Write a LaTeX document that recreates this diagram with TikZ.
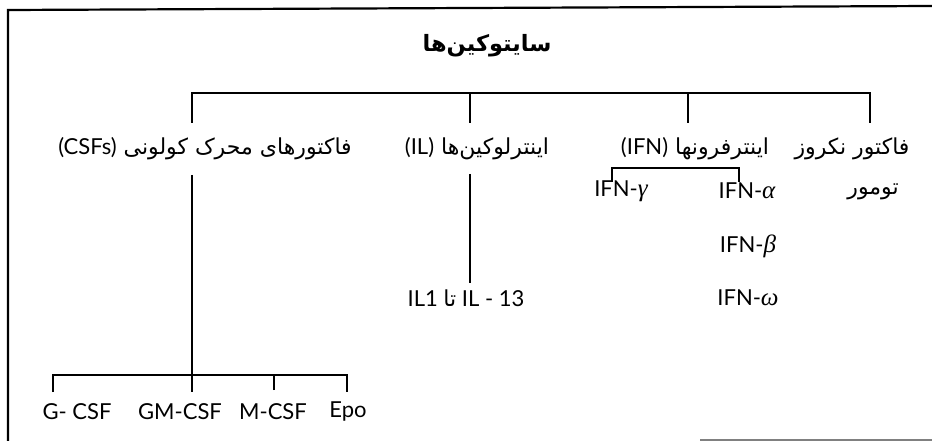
\documentclass[tikz,border=0pt]{standalone}
\usepackage{fontspec}
\setmainfont{Lato}
\newfontfamily\fa[Script=Arabic]{DejaVu Sans}
\newfontfamily\latin{Lato}
\newfontfamily\grk{Liberation Serif}
\newcommand{\gk}[1]{{\grk\itshape\fontsize{25}{26}\selectfont #1}}
\TeXXeTstate=1
\tikzset{
  head/.style={font=\fa\bfseries\fontsize{22.5}{26}\selectfont, inner sep=0pt},
  group/.style={font=\fa\fontsize{22}{26}\selectfont, inner sep=0pt},
  kind/.style={font=\latin\fontsize{22}{26}\selectfont, inner sep=0pt},
  link/.style={line width=1.6pt},
  frame/.style={line width=2.2pt},
}
\begin{document}
\begin{tikzpicture}[x=1pt, y=-1pt]
  \useasboundingbox (0,0) rectangle (932,441);
  % frame of the scan
  \draw[frame] (932,6) -- (8,10) -- (8,441);
  \draw[gray, line width=1.2pt] (700,440) -- (932,440);

  \node[head] (cyt) at (487,46) {\beginR سایتوکین‌ها\endR};

  % second row
  \node[group] (csf) at (205,149) {\beginR فاکتورهای محرک کولونی {\latin\beginL(CSFs)\endL}\endR};
  \node[group] (il)  at (477,149) {\beginR اینترلوکین‌ها {\latin\beginL(IL)\endL}\endR};
  \node[group] (ifn) at (695,149) {\beginR اینترفرونها {\latin\beginL(IFN)\endL}\endR};
  \node[group] (tnf) at (852,149) {\beginR فاکتور نکروز\endR};
  \node[group] (tnfb) at (873,192) {\beginR تومور\endR};

  % interferons
  \node[kind] (gam) at (621,191) {IFN-\gk{γ}};
  \node[kind] (alp) at (747,191) {IFN-\gk{α}};
  \node[kind] (bet) at (748,246) {IFN-\gk{β}};
  \node[kind] (ome) at (748,298) {IFN-\gk{ω}};

  % interleukins
  \node[kind] (ilr) at (466,298) {IL1 {\fa\beginR تا\endR} IL - 13};

  % colony stimulating factors
  \node[kind] (gcsf)  at (77,412)  {G- CSF};
  \node[kind] (gmcsf) at (180,412) {GM-CSF};
  \node[kind] (mcsf)  at (273,412) {M-CSF};
  \node[kind] (epo)   at (348,412) {Epo};

  % top bracket
  \coordinate (bar) at (0,93);
  \coordinate (dcsf) at (192,123);
  \coordinate (dil)  at (470,123);
  \coordinate (difn) at (688,123);
  \coordinate (dtnf) at (870,123);
  \draw[link] (dcsf) |- (dtnf |- bar) -- (dtnf);
  \draw[link] (dil) -- (dil |- bar);
  \draw[link] (difn) -- (difn |- bar);

  % interferon bracket
  \coordinate (ibar) at (0,168);
  \coordinate (igam) at (612,182);
  \coordinate (ialp) at (739,182);
  \draw[link] (igam) |- (ialp |- ibar) -- (ialp);

  % interleukin line
  \coordinate (ilt) at (470,174);
  \coordinate (ilb) at (470,283);
  \draw[link] (ilt) -- (ilb);

  % csf tree
  \coordinate (cbar) at (0,375);
  \coordinate (ct)  at (192,175);
  \coordinate (cgm) at (192,392);
  \coordinate (cg)  at (53,392);
  \coordinate (cm)  at (274,390);
  \coordinate (ce)  at (347,392);
  \draw[link] (ct) -- (cgm);
  \draw[link] (cg) |- (ce |- cbar) -- (ce);
  \draw[link] (cm) -- (cm |- cbar);
\end{tikzpicture}
\end{document}
